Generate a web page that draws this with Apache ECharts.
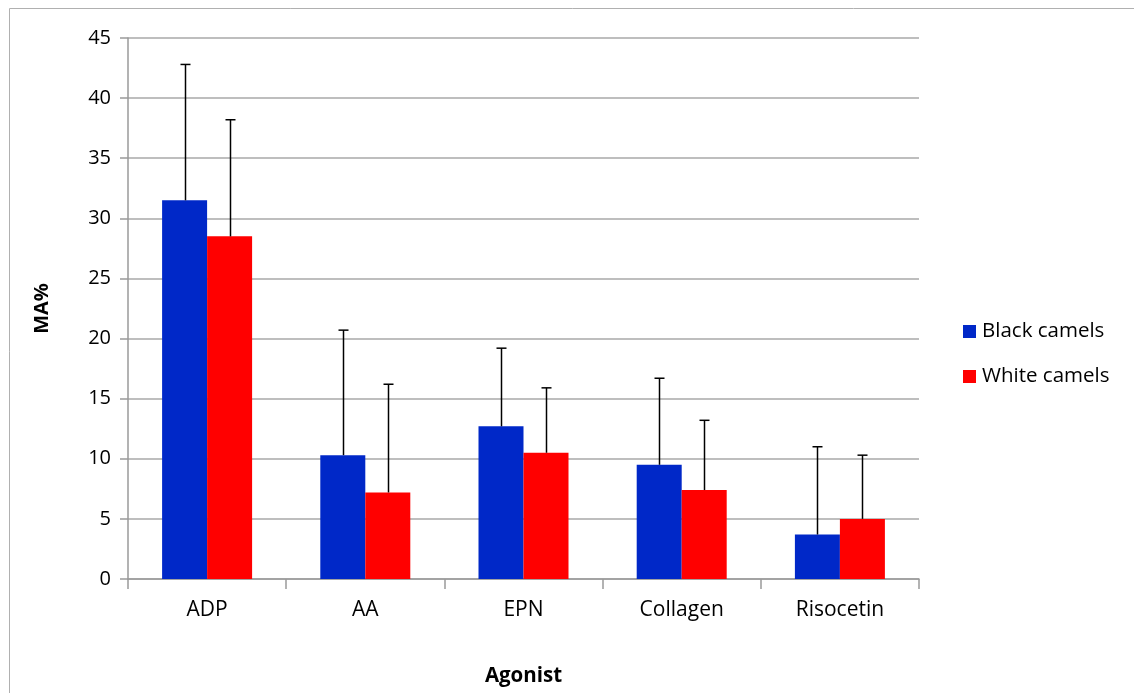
<!DOCTYPE html>
<html><head><meta charset="utf-8">
<script src="https://cdn.jsdelivr.net/npm/echarts@6/dist/echarts.min.js"></script>
<style>html,body{margin:0;padding:0;background:#fff}#c{width:1134px;height:693px}</style>
</head><body><div id="c"></div>
<script>
const categories = ['ADP', 'AA', 'EPN', 'Collagen', 'Risocetin'];
const blackCamels = [31.5, 10.3, 12.7, 9.5, 3.7];
const whiteCamels = [28.5, 7.2, 10.5, 7.4, 5.0];
const blackErr = [11.3, 10.4, 6.5, 7.2, 7.3];
const whiteErr = [9.7, 9.0, 5.4, 5.8, 5.3];
const seriesNames = ['Black camels', 'White camels'];

const chart = echarts.init(document.getElementById('c'));
const FONT = 'Open Sans';
const BW = 45;
function errSeries(vals, errs, off) {
  return {
    type: 'custom', silent: true, z: 5,
    data: vals.map((v, i) => [i, v, v + errs[i]]),
    renderItem: function (params, api) {
      const p0 = api.coord([api.value(0), api.value(1)]);
      const p1 = api.coord([api.value(0), api.value(2)]);
      const x = Math.round(p0[0] + off) + 0.5;
      return { type: 'group', children: [
        { type: 'line', shape: { x1: x, y1: p0[1], x2: x, y2: p1[1] }, style: { stroke: '#000', lineWidth: 1.5 } },
        { type: 'line', shape: { x1: x - 5, y1: p1[1], x2: x + 5, y2: p1[1] }, style: { stroke: '#000', lineWidth: 1.5 } }
      ]};
    }
  };
}
chart.setOption({
  animation: false,
  textStyle: { fontFamily: FONT },
  graphic: [{ type: 'rect', shape: { x: 9.5, y: 8.5, width: 1300, height: 900 }, style: { fill: 'none', stroke: '#b0b0b0', lineWidth: 1 }, silent: true }],
  grid: { left: 128, right: 215, top: 38, bottom: 114 },
  legend: {
    orient: 'vertical', left: 958, top: 316, itemGap: 24,
    itemWidth: 13, itemHeight: 13, icon: 'rect',
    textStyle: { fontSize: 20.5, color: '#000', fontFamily: FONT, padding: [0, 0, 0, 1] },
    data: seriesNames
  },
  xAxis: {
    type: 'category', data: categories,
    name: 'Agonist', nameLocation: 'middle', nameGap: 87,
    nameTextStyle: { fontSize: 20.5, fontWeight: 'bold', color: '#000' },
    axisLine: { lineStyle: { color: '#9a9a9a', width: 1.5 } },
    axisTick: { show: true, length: 10, lineStyle: { color: '#9a9a9a', width: 1.5 } },
    axisLabel: { fontSize: 21, color: '#000', margin: 21 }
  },
  yAxis: {
    type: 'value', min: 0, max: 45, interval: 5,
    name: 'MA%', nameLocation: 'middle', nameGap: 76, nameRotate: 90,
    nameTextStyle: { fontSize: 20, fontWeight: 'bold', color: '#000' },
    axisLine: { show: true, lineStyle: { color: '#9a9a9a', width: 1.5 } },
    axisTick: { show: true, length: 8, lineStyle: { color: '#9a9a9a', width: 1.5 } },
    axisLabel: { fontSize: 20, color: '#000', margin: 17 },
    splitLine: { lineStyle: { color: '#a8a8a8', width: 1.5 } }
  },
  series: [
    { name: seriesNames[0], type: 'bar', data: blackCamels, barWidth: BW, barGap: '0%', itemStyle: { color: '#0028c8' } },
    { name: seriesNames[1], type: 'bar', data: whiteCamels, barWidth: BW, barGap: '0%', itemStyle: { color: '#ff0000' } },
    errSeries(blackCamels, blackErr, -BW / 2),
    errSeries(whiteCamels, whiteErr, BW / 2)
  ]
});
</script></body></html>
